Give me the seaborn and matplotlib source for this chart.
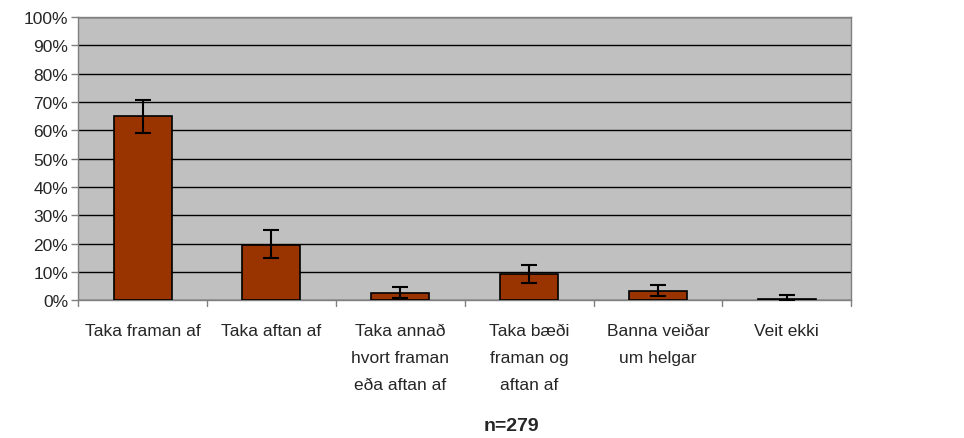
import matplotlib.pyplot as plt
import seaborn as sns
import pandas as pd
import numpy as np

categories = ["Taka framan af", "Taka aftan af", "Taka annað\nhvort framan\neða aftan af",
              "Taka bæði\nframan og\naftan af", "Banna veiðar\num helgar", "Veit ekki"]
values = [65.0, 19.5, 2.7, 9.3, 3.3, 0.5]
err_low = [59.0, 15.0, 0.8, 6.0, 1.3, 0.0]
err_high = [70.8, 24.7, 4.5, 12.4, 5.3, 1.7]

sns.set_style("white")
plt.rcParams['font.family'] = ['Liberation Sans', 'DejaVu Sans']

df = pd.DataFrame({"cat": categories, "val": values})

fig = plt.figure(figsize=(9.64, 4.39), dpi=100)
ax = fig.add_axes([0.081, 0.314, 0.802, 0.645])
ax.set_facecolor('#C0C0C0')

sns.barplot(data=df, x="cat", y="val", color='#993300', width=0.45,
            edgecolor='black', linewidth=1.2, saturation=1, ax=ax, zorder=3)

lo = np.array(values) - np.array(err_low)
hi = np.array(err_high) - np.array(values)
ax.errorbar(np.arange(len(values)), values, yerr=[lo, hi], fmt='none',
            ecolor='black', elinewidth=1.5, capsize=6, capthick=1.5, zorder=4)

ax.set_ylim(0, 100)
ax.set_xlim(-0.5, len(categories) - 0.5)
ax.set_yticks(np.arange(0, 101, 10))
ax.set_yticklabels([f"{v}%" for v in range(0, 101, 10)], fontsize=12.5)
ax.yaxis.grid(True, color='black', linewidth=1, zorder=0)
ax.set_axisbelow(True)
ax.tick_params(axis='y', left=True, length=5, width=1, color='#808080', pad=2)

ax.set_xticks(np.arange(len(categories)))
ax.set_xticklabels(categories, fontsize=12.5, va='top')
for lab in ax.get_xticklabels():
    lab.set_linespacing(2.0)
ax.tick_params(axis='x', bottom=False, pad=13)
for x in np.arange(-0.5, len(categories), 1):
    ax.plot([x, x], [0, -2], color='#808080', linewidth=1, clip_on=False)

for s in ax.spines.values():
    s.set_color('#808080')
    s.set_linewidth(1)

ax.set_xlabel("")
ax.set_ylabel("")
fig.text(0.531, 0.01, "n=279", ha='center', va='bottom', fontsize=14, fontweight='bold')

fig.savefig("out.png", dpi=100)
